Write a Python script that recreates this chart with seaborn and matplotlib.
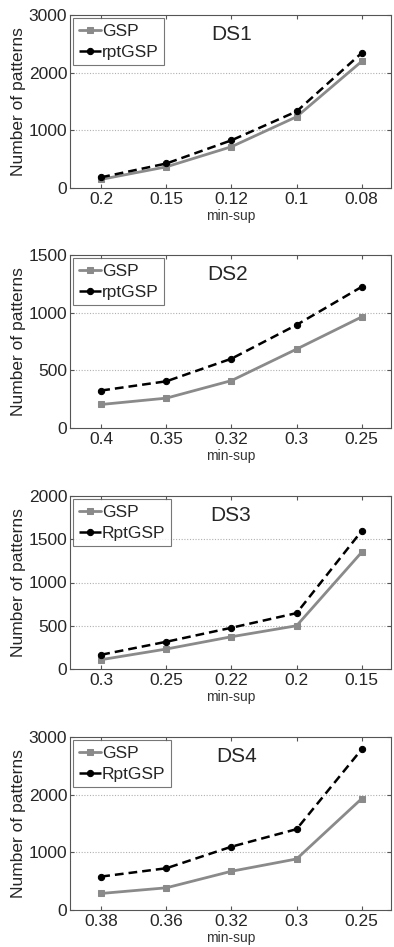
import numpy as np
import pandas as pd
import matplotlib
matplotlib.use("Agg")
import matplotlib.pyplot as plt
import seaborn as sns

# ---- data ----
titles = ["DS1", "DS2", "DS3", "DS4"]
xlabels = [
    ["0.2", "0.15", "0.12", "0.1", "0.08"],
    ["0.4", "0.35", "0.32", "0.3", "0.25"],
    ["0.3", "0.25", "0.22", "0.2", "0.15"],
    ["0.38", "0.36", "0.32", "0.3", "0.25"],
]
gsp = [
    [150, 367, 716, 1235, 2196],
    [204, 259, 411, 684, 963],
    [108, 231, 373, 500, 1350],
    [287, 385, 672, 885, 1931],
]
rpt = [
    [186, 425, 827, 1328, 2341],
    [325, 405, 601, 894, 1224],
    [165, 315, 477, 646, 1596],
    [580, 724, 1098, 1402, 2787],
]
rpt_names = ["rptGSP", "rptGSP", "RptGSP", "RptGSP"]
ymaxes = [3000, 1500, 2000, 3000]
ysteps = [1000, 500, 500, 1000]

sns.set_theme(style="white")
plt.rcParams["font.family"] = ["Liberation Sans", "DejaVu Sans"]

W, H = 394, 947
fig = plt.figure(figsize=(W / 100, H / 100), dpi=100)

tops = [15, 255, 496, 737]
ah = 173
left, right = 70, 391
title_x = [0.505, 0.49, 0.50, 0.52]

for i in range(4):
    ax = fig.add_axes([left / W, 1 - (tops[i] + ah) / H, (right - left) / W, ah / H])
    pos = np.arange(1, 6)
    df = pd.DataFrame({"pos": np.concatenate([pos, pos]),
                       "val": np.concatenate([gsp[i], rpt[i]]),
                       "series": ["GSP"] * 5 + [rpt_names[i]] * 5})
    sns.lineplot(data=df[df.series == "GSP"], x="pos", y="val", ax=ax,
                 color="#8a8a8a", lw=2.0, marker="s", markersize=5,
                 markeredgecolor="#8a8a8a", label="GSP")
    sns.lineplot(data=df[df.series == rpt_names[i]], x="pos", y="val", ax=ax,
                 color="black", lw=1.8, linestyle=(0, (3.5, 2)), marker="o",
                 markersize=4.5, markeredgecolor="black", label=rpt_names[i])
    ax.set_xlim(0.52, 5.45)
    ax.set_ylim(0, ymaxes[i])
    ax.set_xticks(pos)
    ax.set_xticklabels(xlabels[i], fontsize=12.5)
    yt = np.arange(0, ymaxes[i] + 1, ysteps[i])
    ax.set_yticks(yt)
    ax.set_yticklabels([str(v) for v in yt], fontsize=12.5)
    for v in yt[1:-1]:
        ax.axhline(v, color="#b0b0b0", lw=0.8, ls=(0, (1, 1.5)), zorder=0)
    ax.tick_params(direction="in", length=3, width=0.8, color="#555555",
                   top=True, right=True, bottom=True, left=True)
    ax.tick_params(axis="x", pad=3)
    ax.tick_params(axis="y", pad=2)
    for s in ax.spines.values():
        s.set_color("#555555")
        s.set_linewidth(0.8)
    ax.set_xlabel("min-sup", fontsize=10, labelpad=1.5, color="#333333")
    ax.set_ylabel("Number of patterns", fontsize=12.5, labelpad=2)
    ax.text(title_x[i], 0.885, titles[i], transform=ax.transAxes,
            fontsize=15, ha="center", va="center")
    leg = ax.legend(loc="upper left", fontsize=12.5, frameon=True, fancybox=False,
                    handlelength=1.3, handletextpad=0.05, borderpad=0.3,
                    labelspacing=0.35, borderaxespad=0.2)
    leg.get_frame().set_edgecolor("#555555")
    leg.get_frame().set_linewidth(0.8)

fig.savefig("out.png", dpi=100)
